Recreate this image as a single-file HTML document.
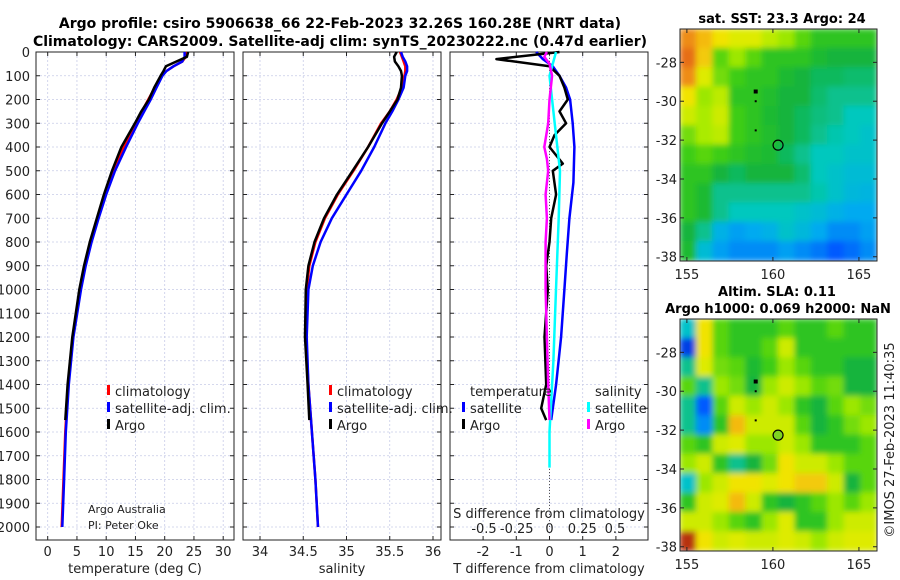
<!DOCTYPE html>
<html><head><meta charset="utf-8"><style>
body{margin:0;background:#fff}
svg{display:block;font-family:"DejaVu Sans","Liberation Sans",sans-serif}
</style></head><body>
<svg id="c" width="900" height="580" viewBox="0 0 900 580">
<defs><filter id="bl" x="0" y="0" width="100%" height="100%"><feGaussianBlur stdDeviation="3" edgeMode="duplicate"/></filter>
<clipPath id="cm1"><rect x="680" y="29" width="197" height="232"/></clipPath>
<clipPath id="cm2"><rect x="680" y="319" width="197" height="232"/></clipPath></defs>
<text x="340" y="28" font-size="14" font-weight="bold" text-anchor="middle">Argo profile: csiro 5906638_66 22-Feb-2023 32.26S 160.28E (NRT data)</text>
<text x="340" y="46" font-size="14" font-weight="bold" text-anchor="middle">Climatology: CARS2009. Satellite-adj clim: synTS_20230222.nc (0.47d earlier)</text>
</svg>
<script>
const depths=[0,20,40,60,80,100,150,200,250,300,400,500,600,700,800,900,1000,1200,1400,1600,1800,2000];
const tClim=[23.8,23.6,23,21.5,20.3,19.4,18.3,17.2,16.1,15.0,13.0,11.2,9.8,8.5,7.3,6.3,5.5,4.3,3.5,3.0,2.7,2.4];
const tSat=[23.4,23.4,23.0,21.5,20.3,19.6,18.6,17.6,16.5,15.4,13.4,11.5,10.0,8.7,7.5,6.5,5.7,4.4,3.6,3.1,2.8,2.5];
const argoDepths=[0,20,40,60,80,100,150,200,250,300,400,500,600,700,800,900,1000,1200,1400,1550];
const tArgo=[24.0,23.8,22.0,20.2,19.8,19.3,18.2,17.3,16.0,14.9,12.6,11.0,9.6,8.4,7.2,6.2,5.4,4.2,3.4,3.0];
const sClim=[35.62,35.64,35.66,35.68,35.68,35.67,35.64,35.58,35.5,35.4,35.25,35.08,34.9,34.75,34.64,34.57,34.54,34.53,34.56,34.6,34.64,34.67];
const sSat=[35.63,35.65,35.68,35.7,35.7,35.68,35.66,35.6,35.53,35.45,35.32,35.17,35.0,34.83,34.7,34.61,34.56,34.54,34.56,34.6,34.64,34.67];
const sArgo=[35.58,35.55,35.56,35.6,35.63,35.64,35.63,35.59,35.5,35.41,35.25,35.07,34.89,34.74,34.63,34.56,34.53,34.52,34.55,34.57];
const dTSatDepths=[0,30,60,100,150,200,300,400,550,700,850,1000,1200,1400,1500,1550];
const dTSat=[-0.4,-0.2,0.1,0.3,0.5,0.62,0.7,0.75,0.72,0.6,0.52,0.45,0.35,0.2,0.1,0.05];
const dTArgoDepths=[0,30,60,100,150,200,250,300,350,400,470,500,600,700,800,900,1000,1200,1400,1500,1550];
const dTArgo=[0.3,-1.6,0,0.3,0.45,0.55,0.3,0.5,0.15,0.0,0.4,0.1,0.2,0.05,0.0,-0.1,-0.05,-0.15,-0.1,-0.25,-0.1];
const dSSatDepths=[0,100,300,500,700,1000,1300,1500,1600,1750];
const dSSat=[0.05,0.0,0.04,0.08,0.07,0.05,0.03,0.01,0.0,0.0];
const dSArgoDepths=[0,20,50,100,200,300,400,450,500,600,700,800,1000,1200,1400,1550];
const dSArgo=[-0.02,-0.04,0.0,0.02,0.0,-0.01,-0.04,-0.02,-0.01,-0.03,-0.02,-0.03,-0.03,-0.02,-0.01,0];
const depthTicks=[0,100,200,300,400,500,600,700,800,900,1000,1100,1200,1300,1400,1500,1600,1700,1800,1900,2000];
const tTicks=[0,5,10,15,20,25,30];
const sTicks=[34,34.5,35,35.5,36];
const sTickLabels=["34","34.5","35","35.5","36"];
const dTTicks=[-2,-1,0,1,2];
const dSTicks=[-0.5,-0.25,0,0.25,0.5];
const dSTickLabels=["-0.5","-0.25","0","0.25","0.5"];
const latTicks=[-28,-30,-32,-34,-36,-38];
const lonTicks=[155,160,165];
const sstGrid=[
[0.85,0.8,0.75,0.72,0.72,0.68,0.65,0.6,0.55,0.55,0.55,0.55],
[0.88,0.78,0.6,0.65,0.6,0.55,0.55,0.55,0.52,0.5,0.5,0.5],
[0.85,0.72,0.62,0.58,0.55,0.55,0.52,0.5,0.48,0.48,0.47,0.47],
[0.75,0.65,0.68,0.55,0.55,0.53,0.5,0.5,0.47,0.45,0.45,0.45],
[0.7,0.66,0.7,0.58,0.55,0.52,0.5,0.48,0.46,0.45,0.42,0.42],
[0.62,0.66,0.68,0.58,0.55,0.53,0.5,0.48,0.45,0.43,0.42,0.4],
[0.58,0.6,0.58,0.55,0.53,0.52,0.48,0.45,0.42,0.42,0.4,0.4],
[0.55,0.55,0.5,0.48,0.5,0.5,0.5,0.47,0.42,0.4,0.38,0.38],
[0.55,0.52,0.45,0.45,0.45,0.45,0.45,0.45,0.43,0.4,0.37,0.36],
[0.55,0.52,0.45,0.42,0.42,0.42,0.42,0.4,0.38,0.35,0.33,0.33],
[0.5,0.45,0.35,0.32,0.33,0.35,0.4,0.37,0.33,0.3,0.3,0.32],
[0.52,0.38,0.32,0.3,0.3,0.3,0.32,0.3,0.28,0.25,0.27,0.3]];
const slaGrid=[
[0.4,0.75,0.6,0.55,0.55,0.55,0.6,0.55,0.55,0.6,0.55,0.55],
[0.2,0.75,0.6,0.55,0.55,0.6,0.7,0.55,0.55,0.55,0.55,0.55],
[0.45,0.72,0.62,0.6,0.52,0.58,0.65,0.6,0.55,0.55,0.5,0.5],
[0.6,0.45,0.65,0.62,0.5,0.65,0.7,0.65,0.6,0.62,0.5,0.5],
[0.45,0.25,0.6,0.7,0.65,0.7,0.65,0.55,0.5,0.6,0.65,0.62],
[0.45,0.3,0.55,0.8,0.7,0.7,0.7,0.6,0.5,0.55,0.62,0.65],
[0.6,0.55,0.7,0.72,0.65,0.65,0.7,0.65,0.55,0.55,0.55,0.6],
[0.65,0.7,0.55,0.45,0.5,0.62,0.75,0.7,0.7,0.65,0.6,0.6],
[0.4,0.65,0.7,0.75,0.75,0.72,0.75,0.78,0.78,0.7,0.5,0.6],
[0.55,0.7,0.72,0.8,0.7,0.55,0.5,0.55,0.6,0.65,0.6,0.65],
[0.7,0.7,0.65,0.6,0.55,0.65,0.72,0.55,0.55,0.65,0.7,0.7],
[0.95,0.75,0.7,0.72,0.7,0.7,0.72,0.7,0.65,0.7,0.72,0.72]];
const floatLons=[159,159,159];const floatLats=[-29.5,-30,-31.5];
const profLon=160.3, profLat=-32.26;

const svg=document.getElementById('c');const NS='http://www.w3.org/2000/svg';
function mk(t,a,p){const e=document.createElementNS(NS,t);for(const k in a)e.setAttribute(k,a[k]);(p||svg).appendChild(e);return e;}
function tx(x,y,s,a,p){const e=mk('text',Object.assign({x:x,y:y,'font-size':13,fill:'#222'},a||{}),p);e.textContent=s;return e;}
const PT=52,PB=540;
const yD=d=>PT+d*0.2375;
const xT=v=>47.7+v*5.85;
const xS=v=>260+(v-34)*86.5;
const xDT=v=>549.5+v*33.2;
const xDS=v=>549.5+v*131;
const panels=[{x0:36,x1:234,name:'temperature-panel'},{x0:243,x1:441,name:'salinity-panel'},{x0:450,x1:648,name:'difference-panel'}];
const gridX=[tTicks.map(xT),sTicks.map(xS),dTTicks.map(xDT)];
panels.forEach((p,i)=>{
 const g=mk('g',{});
 
 
 depthTicks.forEach(d=>mk('line',{x1:p.x0,x2:p.x1,y1:yD(d),y2:yD(d),stroke:'#c8cce8','stroke-width':0.8,'stroke-dasharray':'2,2'},g));
 gridX[i].forEach(x=>mk('line',{x1:x,x2:x,y1:PT,y2:PB,stroke:'#c8cce8','stroke-width':0.8,'stroke-dasharray':'2,2'},g));
 gridX[i].forEach(x=>{mk('line',{x1:x,x2:x,y1:PB,y2:PB-4,stroke:'#222'},g);mk('line',{x1:x,x2:x,y1:PT,y2:PT+4,stroke:'#222'},g);});
 depthTicks.forEach(d=>{mk('line',{x1:p.x0,x2:p.x0+4,y1:yD(d),y2:yD(d),stroke:'#222'},g);mk('line',{x1:p.x1,x2:p.x1-4,y1:yD(d),y2:yD(d),stroke:'#222'},g);});
 mk('rect',{x:p.x0,y:PT,width:p.x1-p.x0,height:PB-PT,fill:'none',stroke:'#222','stroke-width':1},g);
});
depthTicks.forEach(d=>{const e=tx(30,yD(d)+5,String(d),{'text-anchor':'end'});});
tTicks.forEach(v=>tx(xT(v),556,String(v),{'text-anchor':'middle'}));
sTicks.forEach((v,i)=>tx(xS(v),556,sTickLabels[i],{'text-anchor':'middle'}));
dTTicks.forEach(v=>tx(xDT(v),556,String(v),{'text-anchor':'middle'}));
dSTicks.forEach((v,i)=>tx(xDS(v),533,dSTickLabels[i],{'text-anchor':'middle'}));
let e;
e=tx(135,573,'temperature (deg C)',{'text-anchor':'middle'});
e=tx(342,573,'salinity',{'text-anchor':'middle'});
e=tx(549,573,'T difference from climatology',{'text-anchor':'middle'});
e=tx(549,518,'S difference from climatology',{'text-anchor':'middle'});
e=tx(88,513,'Argo Australia',{'font-size':11});
e=tx(88,529,'PI: Peter Oke',{'font-size':11});
function line(xs,ds,fx,col,w,name){const pts=[];xs.forEach((v,i)=>pts.push(fx(v).toFixed(1)+','+yD(ds[i]).toFixed(1)));const l=mk('polyline',{points:pts.join(' '),fill:'none',stroke:col,'stroke-width':w,'stroke-linejoin':'round'});return l;}
line(tClim,depths,xT,'#f00',2.5,'temp-climatology-line');
line(tSat,depths,xT,'#00f',2.5,'temp-satellite-line');
line(tArgo,argoDepths,xT,'#000',2.5,'temp-argo-line');
line(sClim,depths,xS,'#f00',2.5,'sal-climatology-line');
line(sSat,depths,xS,'#00f',2.5,'sal-satellite-line');
line(sArgo,argoDepths,xS,'#000',2.5,'sal-argo-line');
e=mk('line',{x1:549.5,x2:549.5,y1:yD(0),y2:yD(2000),stroke:'#555','stroke-dasharray':'1,2'});
line(dTSat,dTSatDepths,xDT,'#00f',2.5,'tdiff-satellite-line');
line(dTArgo,dTArgoDepths,xDT,'#000',2.5,'tdiff-argo-line');
line(dSSat,dSSatDepths,xDS,'#0ff',2.5,'sdiff-satellite-line');
line(dSArgo,dSArgoDepths,xDS,'#f0f',2.5,'sdiff-argo-line');
function leg(x,y,col,label,name){const g=mk('g',{});mk('rect',{x:x,y:y-11,width:3,height:10,fill:col},g);tx(x+8,y,label,{},g);}
[[107,'legend-temp'],[329,'legend-sal']].forEach(([x,n])=>{leg(x,396,'#f00','climatology',n+'-climatology');leg(x,413,'#00f','satellite-adj. clim.',n+'-satellite');leg(x,430,'#000','Argo',n+'-argo');});
tx(470,396,'temperature');leg(462,413,'#00f','satellite','legend-tdiff-satellite');leg(462,430,'#000','Argo','legend-tdiff-argo');
tx(595,396,'salinity');leg(587,413,'#0ff','satellite','legend-sdiff-satellite');leg(587,430,'#f0f','Argo','legend-sdiff-argo');
// maps
const cStops=[[0.15,[0,40,200]],[0.25,[0,90,255]],[0.33,[0,170,240]],[0.42,[0,200,190]],[0.5,[20,180,60]],[0.58,[60,205,20]],[0.66,[170,235,0]],[0.74,[240,235,0]],[0.82,[245,170,20]],[0.9,[225,90,20]],[1.0,[140,10,10]]];
function jet(v){if(v<=cStops[0][0])return 'rgb('+cStops[0][1].join(',')+')';for(let i=1;i<cStops.length;i++){if(v<=cStops[i][0]){const a=cStops[i-1],b=cStops[i],t=(v-a[0])/(b[0]-a[0]);return 'rgb('+a[1].map((c,k)=>Math.round(c+(b[1][k]-c)*t)).join(',')+')';}}return 'rgb(140,10,10)';}
const MX0=680,MW=197,LON0=154.6,LON1=166.05;
const xLon=l=>MX0+(l-LON0)*MW/(LON1-LON0);
function map(top,grid,name,clip){
 const yLat=l=>top+0.3+(-26.3-l)*19.44;
 const g=mk('g',{});
 const cg=mk('g',{'clip-path':'url(#'+clip+')'},g);const hg=mk('g',{filter:'url(#bl)'},cg);
 const rows=grid.length,cols=grid[0].length,cw=MW/cols,ch=232/rows;
 grid.forEach((r,i)=>r.forEach((v,j)=>{const c=mk('rect',{x:MX0+j*cw-0.5,y:top+i*ch-0.5,width:cw+1,height:ch+1,fill:jet(v)},hg);}));
 floatLons.forEach((lo,i)=>{const s=i==0?4:2;mk('rect',{x:xLon(lo)-s/2,y:yLat(floatLats[i])-s/2,width:s,height:s,fill:'#000'},g);});
 const c=mk('circle',{cx:xLon(profLon),cy:yLat(profLat),r:5,fill:name=='sla-map'?'#7ed321':'none',stroke:'#000','stroke-width':1.2},g);
 mk('rect',{x:MX0,y:top,width:MW,height:232,fill:'none',stroke:'#222'},g);
 latTicks.forEach(l=>{const y=yLat(l);mk('line',{x1:MX0+MW,x2:MX0+MW-4,y1:y,y2:y,stroke:'#222'},g);mk('line',{x1:MX0,x2:MX0+4,y1:y,y2:y,stroke:'#222'},g);tx(MX0-3,y+5,String(l),{'text-anchor':'end'});});
 lonTicks.forEach(l=>{const x=xLon(l);mk('line',{x1:x,x2:x,y1:top+232,y2:top+228,stroke:'#222'},g);mk('line',{x1:x,x2:x,y1:top,y2:top+4,stroke:'#222'},g);tx(x,top+250,String(l),{'text-anchor':'middle'});});
}
map(29,sstGrid,'sst-map','cm1');
map(319,slaGrid,'sla-map','cm2');
e=tx(782,23,'sat. SST: 23.3 Argo: 24',{'text-anchor':'middle','font-weight':'bold','fill':'#000'});
e=tx(777,296,'Altim. SLA: 0.11',{'text-anchor':'middle','font-weight':'bold','fill':'#000'});
e=tx(778,313,'Argo h1000: 0.069 h2000: NaN',{'text-anchor':'middle','font-weight':'bold','fill':'#000'});
e=tx(0,0,'©IMOS 27-Feb-2023 11:40:35',{'text-anchor':'middle',transform:'translate(894,440) rotate(-90)'});
</script>
</body></html>
